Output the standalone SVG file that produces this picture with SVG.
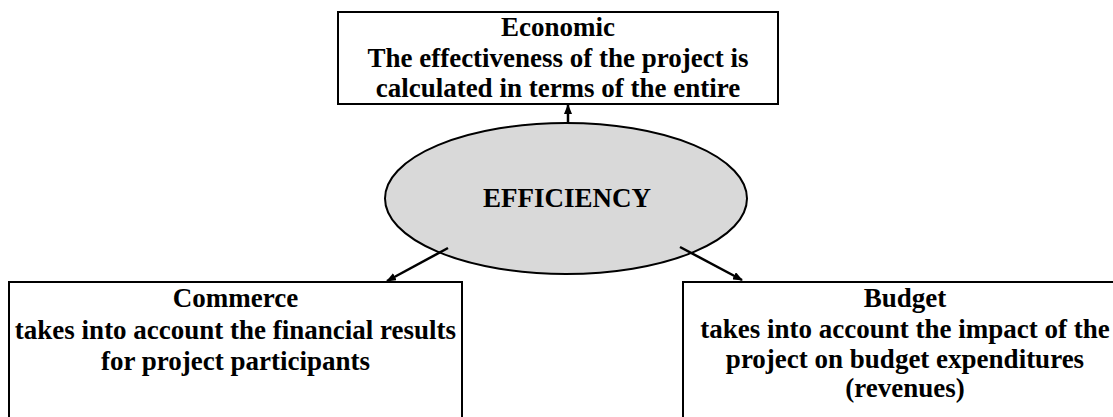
<svg xmlns="http://www.w3.org/2000/svg" width="1113" height="417" viewBox="0 0 1113 417">
  <style>
    .box { fill: #ffffff; stroke: #000000; stroke-width: 2; }
    .ell { fill: #d9d9d9; stroke: #000000; stroke-width: 2; }
    .t { font-family: "Liberation Serif", "Times New Roman", serif; font-weight: bold; font-size: 27px; fill: #000000; text-anchor: middle; }
    .conn { stroke: #000000; stroke-width: 2.5; fill: none; marker-end: url(#arrow); }
  </style>
  <defs>
    <marker id="arrow" markerWidth="10" markerHeight="8" refX="9" refY="4" orient="auto" markerUnits="userSpaceOnUse">
      <path d="M0,0 L10,4 L0,8 Z" fill="#000000"/>
    </marker>
  </defs>
  <rect width="1113" height="417" fill="#ffffff"/>

  <g id="economic">
    <rect class="box" x="338" y="12" width="440" height="92"/>
    <text class="t" x="558" y="36">Economic</text>
    <text class="t" x="558" y="67">The effectiveness of the project is</text>
    <text class="t" x="558" y="97">calculated in terms of the entire</text>
  </g>

  <g id="efficiency">
    <ellipse class="ell" cx="566" cy="198.5" rx="181" ry="75.5"/>
    <text class="t" x="567" y="207">EFFICIENCY</text>
  </g>

  <g id="commerce">
    <rect class="box" x="9" y="282" width="453" height="150"/>
    <text class="t" x="235.5" y="307">Commerce</text>
    <text class="t" x="235.5" y="339">takes into account the financial results</text>
    <text class="t" x="235.5" y="370">for project participants</text>
  </g>

  <g id="budget">
    <rect class="box" x="683" y="282" width="450" height="150"/>
    <text class="t" x="905" y="307">Budget</text>
    <text class="t" x="905" y="338">takes into account the impact of the</text>
    <text class="t" x="905" y="368">project on budget expenditures</text>
    <text class="t" x="905" y="397">(revenues)</text>
  </g>

  <g id="connectors">
    <line class="conn" x1="568" y1="123" x2="568" y2="105"/>
    <line class="conn" x1="448" y1="248" x2="387" y2="281"/>
    <line class="conn" x1="680" y1="247" x2="742" y2="280"/>
  </g>
</svg>
